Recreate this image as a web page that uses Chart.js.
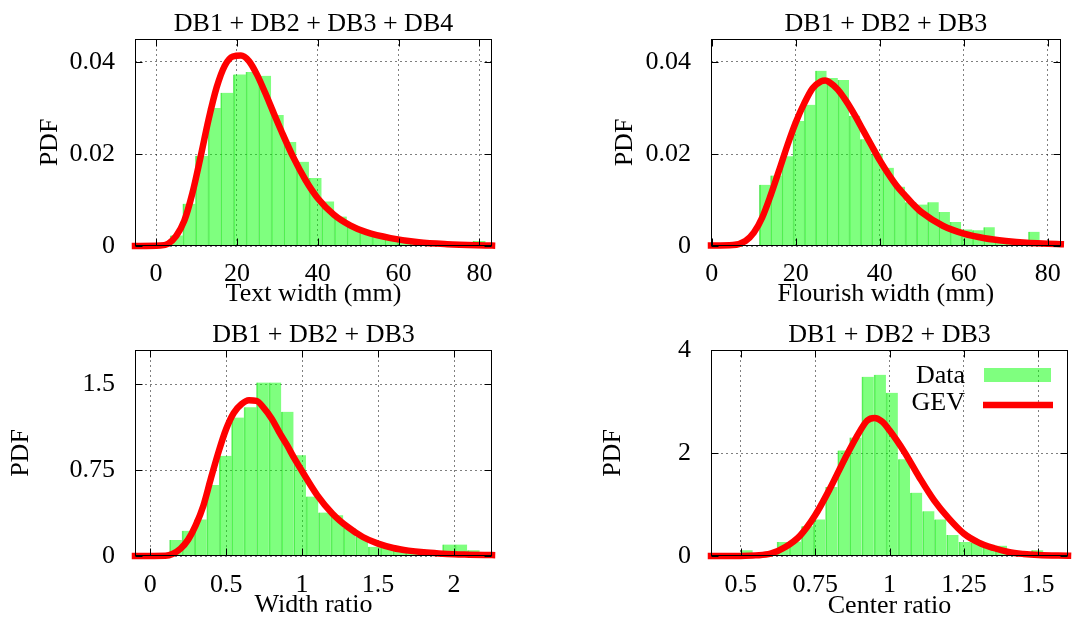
<!DOCTYPE html>
<html>
<head>
<meta charset="utf-8">
<script src="https://cdn.jsdelivr.net/npm/chart.js@4.4.1/dist/chart.umd.min.js"></script>
<style>
  html, body { margin: 0; padding: 0; background: #fff; }
  body { width: 1074px; height: 619px; position: relative; overflow: hidden; }
  canvas { position: absolute; }
</style>
</head>
<body>
<canvas id="c1" width="537" height="310" style="left:0;top:0"></canvas>
<canvas id="c2" width="537" height="310" style="left:537px;top:0"></canvas>
<canvas id="c3" width="537" height="309" style="left:0;top:310px"></canvas>
<canvas id="c4" width="537" height="309" style="left:537px;top:310px"></canvas>
<script>
// text width (mm), DB1..DB4
const textWidthBins = [5.06, 8.18, 11.30, 14.42, 17.54, 20.66, 23.78, 26.90, 30.02, 33.14, 36.26, 39.38, 42.50,
  45.62, 48.74, 51.86, 54.98, 58.10, 61.22, 64.34, 67.46, 70.58, 73.70, 76.82, 79.94];
const textWidthPdf = [0.0023, 0.0092, 0.0196, 0.0300, 0.0333, 0.0373, 0.0378, 0.0370, 0.0285, 0.0226, 0.0183, 0.0148, 0.0097,
  0.0064, 0.0044, 0.0032, 0.0023, 0.0016, 0.0011, 0.0007, 0.0004, 0.0003, 0.0002, 0, 0.0011];
const textWidthFitX = [-5.2, 1, 3, 5, 7, 9, 11, 13, 15, 17, 19, 21, 23, 25, 27, 29, 31, 34, 37, 40, 44, 48, 52, 58, 65, 72, 83.1];
const textWidthFitY = [0, 0.0001, 0.0005, 0.0022, 0.0055, 0.0115, 0.0193, 0.0275, 0.0345, 0.0392, 0.0412, 0.0414, 0.0402,
  0.0372, 0.0333, 0.0291, 0.0250, 0.0192, 0.0143, 0.0104, 0.0068, 0.0045, 0.0030, 0.0017, 0.0008, 0.0004, 0.0001];

// flourish width (mm), DB1..DB3
const flourishBins = [12.64, 15.31, 17.98, 20.65, 23.32, 25.99, 28.66, 31.33, 34.00, 36.67, 39.34, 42.01, 44.68,
  47.35, 50.02, 52.69, 55.36, 58.03, 60.70, 63.37, 66.04, 68.71, 71.38, 74.05, 76.72];
const flourishPdf = [0.0133, 0.0153, 0.0195, 0.0272, 0.0307, 0.0381, 0.0365, 0.0361, 0.0283, 0.0232, 0.0201, 0.0170, 0.0129,
  0.0095, 0.0090, 0.0095, 0.0074, 0.0052, 0.0036, 0.0034, 0.0041, 0.0016, 0.0012, 0.0010, 0.0031];
const flourishFitX = [-0.2, 5, 8, 10, 12, 14, 16, 18, 20, 22, 24, 26, 27, 28, 30, 32, 34, 36, 38, 40, 42, 44, 46, 48, 50,
  55, 60, 65, 70, 75, 80, 83.1];
const flourishFitY = [0.0001, 0.0002, 0.0011, 0.0029, 0.0062, 0.0110, 0.0164, 0.0219, 0.0269, 0.0310, 0.0343, 0.0358,
  0.0360, 0.0356, 0.0340, 0.0315, 0.0285, 0.0252, 0.0219, 0.0186, 0.0157, 0.0131, 0.0110, 0.0090, 0.0073,
  0.0044, 0.0027, 0.0017, 0.0011, 0.0007, 0.0005, 0.0004];

// width ratio
const widthRatioBins = [0.168, 0.250, 0.331, 0.413, 0.495, 0.576, 0.658, 0.740, 0.822, 0.903, 0.985, 1.066, 1.148,
  1.230, 1.311, 1.393, 1.475, 1.556, 1.638, 1.720, 1.801, 1.883, 1.965, 2.046, 2.128];
const widthRatioPdf = [0.14, 0.22, 0.32, 0.62, 0.875, 1.21, 1.30, 1.515, 1.515, 1.26, 0.88, 0.52, 0.38,
  0.355, 0.245, 0.165, 0.08, 0.075, 0.05, 0.035, 0.025, 0.015, 0.10, 0.10, 0.05];
const widthRatioFitX = [-0.1, 0.1, 0.15, 0.2, 0.25, 0.3, 0.35, 0.4, 0.45, 0.5, 0.55, 0.6, 0.65, 0.7, 0.75, 0.8, 0.85,
  0.9, 0.95, 1.0, 1.1, 1.2, 1.3, 1.4, 1.5, 1.6, 1.7, 1.8, 1.9, 2.0, 2.1, 2.25];
const widthRatioFitY = [0, 0.002, 0.02, 0.064, 0.143, 0.27, 0.44, 0.68, 0.91, 1.11, 1.25, 1.325, 1.36, 1.355, 1.29, 1.2,
  1.08, 0.97, 0.85, 0.74, 0.53, 0.37, 0.254, 0.166, 0.108, 0.07, 0.047, 0.032, 0.022, 0.015, 0.012, 0.008];

// center ratio
const centerRatioBins = [0.520, 0.561, 0.602, 0.642, 0.683, 0.724, 0.764, 0.805, 0.846, 0.886, 0.927, 0.968, 1.008,
  1.049, 1.090, 1.131, 1.171, 1.212, 1.253, 1.293, 1.334, 1.375, 1.415, 1.456, 1.497];
const centerRatioPdf = [0.11, 0.02, 0.03, 0.27, 0.28, 0.58, 0.71, 1.34, 2.05, 2.30, 3.48, 3.52, 3.17,
  1.88, 1.23, 0.87, 0.71, 0.41, 0.27, 0.26, 0.22, 0.20, 0.05, 0.02, 0.11];
const centerRatioFitX = [0.4, 0.5, 0.55, 0.6, 0.65, 0.7, 0.75, 0.8, 0.85, 0.9, 0.925, 0.95, 0.975, 1.0, 1.05, 1.1, 1.15,
  1.2, 1.25, 1.3, 1.35, 1.4, 1.45, 1.5, 1.6];
const centerRatioFitY = [0, 0.002, 0.012, 0.045, 0.175, 0.40, 0.79, 1.31, 1.89, 2.42, 2.63, 2.68, 2.61, 2.44, 2.02, 1.53,
  1.08, 0.725, 0.434, 0.26, 0.155, 0.078, 0.04, 0.02, 0.005];

// ticks
const mmTicks = [0, 20, 40, 60, 80];
const mmTickLabels = ['0', '20', '40', '60', '80'];
const mmPdfTicks = [0, 0.02, 0.04];
const mmPdfTickLabels = ['0', '0.02', '0.04'];
const widthRatioTicks = [0, 0.5, 1, 1.5, 2];
const widthRatioTickLabels = ['0', '0.5', '1', '1.5', '2'];
const widthPdfTicks = [0, 0.75, 1.5];
const widthPdfTickLabels = ['0', '0.75', '1.5'];
const centerRatioTicks = [0.5, 0.75, 1, 1.25, 1.5];
const centerRatioTickLabels = ['0.5', '0.75', '1', '1.25', '1.5'];
const centerPdfTicks = [0, 2, 4];
const centerPdfTickLabels = ['0', '2', '4'];

const FONT = "'Liberation Serif', 'Times New Roman', serif";
const FS = 26;
Chart.defaults.font.family = FONT;
Chart.defaults.font.size = FS;
Chart.defaults.color = '#000';

// gnuplot style box with inward ticks on all sides
const framePlugin = {
  id: 'frame',
  afterDatasetsDraw(chart) {
    const { ctx, chartArea: a, scales: { x, y } } = chart;
    const L = Math.round(a.left) + 0.5, R = Math.round(a.right) - 0.5;
    const T = Math.round(a.top) + 0.5, B = Math.round(a.bottom) - 0.5;
    ctx.save();
    ctx.strokeStyle = '#000';
    ctx.lineWidth = 1;
    ctx.beginPath();
    x.ticks.forEach(t => {
      const px = Math.round(x.getPixelForValue(t.value)) + 0.5;
      ctx.moveTo(px, B); ctx.lineTo(px, B - 7);
      ctx.moveTo(px, T); ctx.lineTo(px, T + 7);
    });
    y.ticks.forEach(t => {
      const py = Math.round(y.getPixelForValue(t.value)) + 0.5;
      ctx.moveTo(L, py); ctx.lineTo(L + 7, py);
      ctx.moveTo(R, py); ctx.lineTo(R - 7, py);
    });
    ctx.stroke();
    ctx.strokeRect(L, T, R - L, B - T);
    ctx.restore();
  }
};

const titlePlugin = {
  id: 'panelTitle',
  afterDraw(chart, args, opts) {
    const { ctx, chartArea: a } = chart;
    ctx.save();
    ctx.font = FS + 'px ' + FONT;
    ctx.fillStyle = '#000';
    ctx.textAlign = 'center';
    ctx.textBaseline = 'middle';
    ctx.fillText(opts.text, (a.left + a.right) / 2, opts.y);
    ctx.restore();
  }
};

const keyPlugin = {
  id: 'key',
  afterDraw(chart, args, opts) {
    if (!opts.show) return;
    const { ctx, chartArea: a } = chart;
    const fit = chart.data.datasets[0], hist = chart.data.datasets[1];
    ctx.save();
    ctx.font = FS + 'px ' + FONT;
    ctx.fillStyle = '#000';
    ctx.textAlign = 'right';
    ctx.textBaseline = 'middle';
    ctx.fillText(hist.label, a.right - 103, a.top + 26);
    ctx.fillText(fit.label, a.right - 103, a.top + 53);
    ctx.fillStyle = hist.backgroundColor;
    ctx.fillRect(a.right - 84, a.top + 18, 67, 14);
    ctx.strokeStyle = fit.borderColor;
    ctx.lineWidth = 6.5;
    ctx.beginPath();
    ctx.moveTo(a.right - 85, a.top + 55);
    ctx.lineTo(a.right - 15, a.top + 55);
    ctx.stroke();
    ctx.restore();
  }
};

const pts = (xs, ys) => xs.map((x, i) => ({ x: x, y: ys[i] }));

function panel(id, p) {
  const axisTitleFont = { size: FS, lineHeight: 1 };
  return new Chart(document.getElementById(id), {
    type: 'bar',
    data: {
      datasets: [
        {
          type: 'line',
          label: 'GEV',
          data: pts(p.fitX, p.fitY),
          borderColor: '#ff0000',
          borderWidth: 6.5,
          borderCapStyle: 'square',
          pointRadius: 0,
          cubicInterpolationMode: 'monotone',
          fill: false,
          clip: 4,
          order: 0
        },
        {
          type: 'bar',
          label: 'Data',
          data: pts(p.binX, p.binY),
          backgroundColor: 'rgba(0,255,0,0.5)',
          borderColor: 'rgba(0,215,0,0.55)',
          borderWidth: { left: 1, right: 0, top: 0, bottom: 0 },
          borderSkipped: false,
          barPercentage: 1,
          categoryPercentage: 1,
          order: 1
        }
      ]
    },
    options: {
      responsive: false,
      animation: false,
      devicePixelRatio: 1,
      layout: { padding: { top: p.top, right: p.right, left: 0, bottom: 0 } },
      plugins: {
        legend: { display: false },
        tooltip: { enabled: false },
        panelTitle: { text: p.title, y: p.titleY },
        key: { show: !!p.key }
      },
      scales: {
        x: {
          type: 'linear',
          min: p.xMin, max: p.xMax,
          offset: false,
          grid: { offset: false, color: 'rgba(0,0,0,0.5)', lineWidth: 1, drawTicks: false },
          border: { display: false, dash: [2, 3] },
          ticks: { padding: p.xTickPad, maxRotation: 0, autoSkip: false, callback: (v, i) => p.xLabels[i] },
          afterBuildTicks: s => { s.ticks = p.xTicks.map(v => ({ value: v })); },
          afterFit: s => { s.height = p.xAxisH; },
          title: { display: true, text: p.xTitle, font: axisTitleFont, padding: { top: 0, bottom: p.xTitlePad } }
        },
        y: {
          type: 'linear',
          min: 0, max: p.yMax,
          grid: { color: 'rgba(0,0,0,0.5)', lineWidth: 1, drawTicks: false },
          border: { display: false, dash: [2, 3] },
          ticks: { padding: 20, autoSkip: false, callback: (v, i) => p.yLabels[i] },
          afterBuildTicks: s => { s.ticks = p.yTicks.map(v => ({ value: v })); },
          afterFit: s => { s.width = p.yAxisW; },
          title: { display: true, text: 'PDF', font: axisTitleFont, padding: { top: p.yTitlePad, bottom: 0 } }
        }
      }
    },
    plugins: [titlePlugin, framePlugin, keyPlugin]
  });
}

panel('c1', {
  title: 'DB1 + DB2 + DB3 + DB4', titleY: 24, xTitle: 'Text width (mm)',
  binX: textWidthBins, binY: textWidthPdf, fitX: textWidthFitX, fitY: textWidthFitY,
  xMin: -5.2, xMax: 83.1, yMax: 0.045,
  xTicks: mmTicks, xLabels: mmTickLabels, yTicks: mmPdfTicks, yLabels: mmPdfTickLabels,
  top: 39, right: 45, yAxisW: 135, xAxisH: 64, xTickPad: 13, xTitlePad: 2.5, yTitlePad: 36.7
});

panel('c2', {
  title: 'DB1 + DB2 + DB3', titleY: 24, xTitle: 'Flourish width (mm)',
  binX: flourishBins, binY: flourishPdf, fitX: flourishFitX, fitY: flourishFitY,
  xMin: -0.2, xMax: 83.1, yMax: 0.045,
  xTicks: mmTicks, xLabels: mmTickLabels, yTicks: mmPdfTicks, yLabels: mmPdfTickLabels,
  top: 39, right: 6, yAxisW: 174, xAxisH: 64, xTickPad: 13, xTitlePad: 2.5, yTitlePad: 75.5
});

panel('c3', {
  title: 'DB1 + DB2 + DB3', titleY: 25, xTitle: 'Width ratio',
  binX: widthRatioBins, binY: widthRatioPdf, fitX: widthRatioFitX, fitY: widthRatioFitY,
  xMin: -0.1, xMax: 2.25, yMax: 1.8,
  xTicks: widthRatioTicks, xLabels: widthRatioTickLabels, yTicks: widthPdfTicks, yLabels: widthPdfTickLabels,
  top: 40, right: 45, yAxisW: 135, xAxisH: 63, xTickPad: 14, xTitlePad: 0.7, yTitlePad: 8.2
});

panel('c4', {
  title: 'DB1 + DB2 + DB3', titleY: 25, xTitle: 'Center ratio', key: true,
  binX: centerRatioBins, binY: centerRatioPdf, fitX: centerRatioFitX, fitY: centerRatioFitY,
  xMin: 0.4, xMax: 1.6, yMax: 4,
  xTicks: centerRatioTicks, xLabels: centerRatioTickLabels, yTicks: centerPdfTicks, yLabels: centerPdfTickLabels,
  top: 40, right: 6, yAxisW: 174, xAxisH: 63, xTickPad: 14, xTitlePad: 0, yTitlePad: 62.7
});
</script>
</body>
</html>
